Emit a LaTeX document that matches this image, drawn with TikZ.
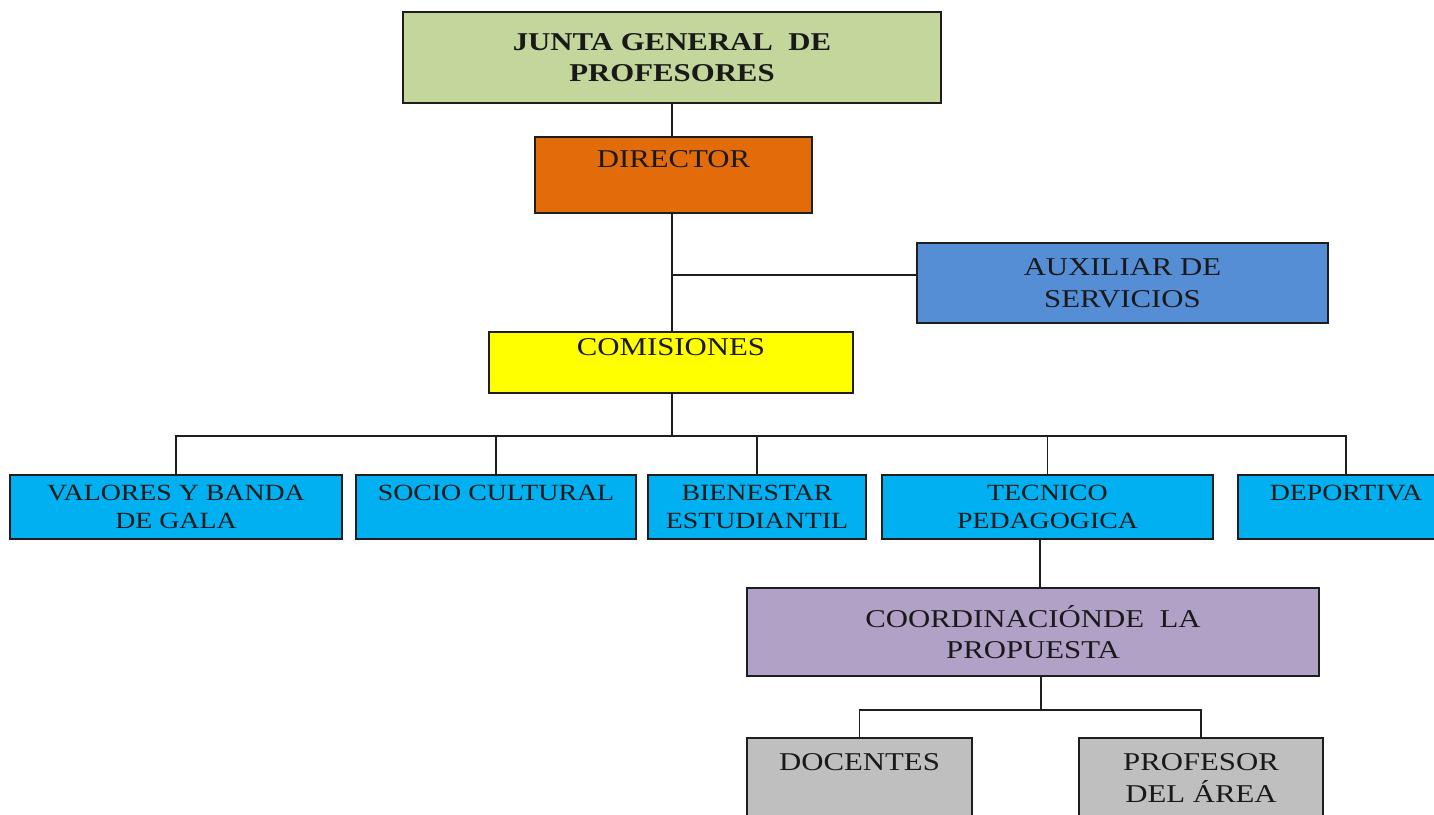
\documentclass[tikz,border=0pt]{standalone}
\usepackage{fontspec}
\setmainfont{Liberation Serif}[FakeStretch=1.2]
\usepackage{tikz}
\usetikzlibrary{positioning, calc}
\definecolor{juntacolor}{RGB}{195,214,155}
\definecolor{directorcolor}{RGB}{227,108,10}
\definecolor{auxcolor}{RGB}{85,142,213}
\definecolor{comcolor}{RGB}{255,255,0}
\definecolor{areacolor}{RGB}{0,176,240}
\definecolor{coordcolor}{RGB}{178,161,199}
\definecolor{staffcolor}{RGB}{191,191,191}
\definecolor{linecolor}{RGB}{30,30,30}

\begin{document}
\begin{tikzpicture}[
    x=0.02cm, y=-0.02cm,
    unit/.style={draw=linecolor, line width=1.1pt, inner sep=0pt, align=center, text=black!90, font=\fontsize{14.6}{18}\selectfont},
    area/.style={unit, fill=areacolor, minimum height=1.28cm, font=\fontsize{13.2}{16}\selectfont},
    staff/.style={unit, fill=staffcolor, minimum height=1.6cm},
    link/.style={line width=1.1pt, linecolor}
]
    \useasboundingbox (0,0) rectangle (1434,815);
    \fill[white] (0,0) rectangle (1434,815);
    \clip (0,0) rectangle (1434,815);

    % Top levels
    \node[unit, fill=juntacolor, minimum width=10.76cm, minimum height=1.82cm] (junta) at (672,57.5) {\bfseries JUNTA GENERAL~ DE\\ \bfseries PROFESORES};
    \node[unit, fill=directorcolor, minimum width=5.54cm, minimum height=1.52cm] (director) at (673.5,175) {DIRECTOR\\ ~};
    \node[unit, fill=auxcolor, minimum width=8.22cm, minimum height=1.6cm] (auxiliar) at (1122.5,283) {AUXILIAR DE\\ SERVICIOS};
    \node[unit, fill=comcolor, minimum width=7.28cm, minimum height=1.22cm] (comisiones) at (671,362.5) {COMISIONES\\ ~};

    % Commissions
    \node[area, minimum width=6.64cm] (valores) at (176,507) {VALORES Y BANDA\\ DE GALA};
    \node[area, minimum width=5.6cm] (socio) at (496,507) {SOCIO CULTURAL\\ ~};
    \node[area, minimum width=4.36cm] (bienestar) at (757,507) {BIENESTAR\\ ESTUDIANTIL};
    \node[area, minimum width=6.62cm] (tecnico) at (1047.5,507) {TECNICO\\ PEDAGOGICA};
    \node[area, minimum width=4.32cm] (deportiva) at (1346,507) {DEPORTIVA\\ ~};

    % Coordination and staff
    \node[unit, fill=coordcolor, minimum width=11.44cm, minimum height=1.76cm] (coordinacion) at (1033,632) {COORDINACIÓNDE~ LA\\ PROPUESTA};
    \node[staff, minimum width=4.5cm] (docentes) at (859.5,778) {DOCENTES\\ ~};
    \node[staff, minimum width=4.88cm] (profesor) at (1201,778) {PROFESOR\\ DEL ÁREA};

    % Connectors
    \draw[link] (junta.south) -- (junta.south |- director.north);
    \coordinate (tap) at (672,275);
    \draw[link] (tap) -- (tap -| auxiliar.west);
    \draw[link] (junta.south |- director.south) -- (junta.south |- comisiones.north);
    \coordinate (bus) at (672,436);
    \draw[link] (comisiones.south -| bus) -- (bus);
    \foreach \c in {valores,socio,bienestar,tecnico,deportiva}
        \draw[link] (bus) -| (\c.north);
    \coordinate (drop) at ($(tecnico.south)!0.5!(coordinacion.north)$);
    \draw[link] (drop |- tecnico.south) -- (drop |- coordinacion.north);
    \coordinate (split) at (1041,710);
    \draw[link] (coordinacion.south -| split) -- (split);
    \foreach \c in {docentes,profesor}
        \draw[link] (split) -| (\c.north);
\end{tikzpicture}
\end{document}
